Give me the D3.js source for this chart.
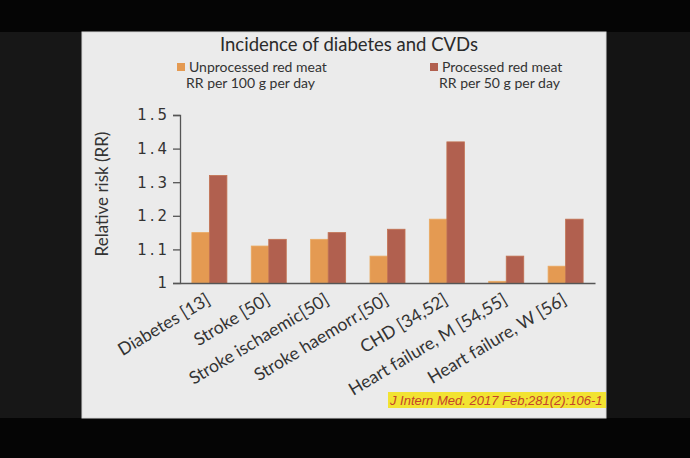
<!DOCTYPE html>
<html><head><meta charset="utf-8">
<script src="https://cdn.jsdelivr.net/npm/d3@7"></script>
<style>html,body{margin:0;padding:0;background:#050505;overflow:hidden}</style>
</head><body>
<svg id="c" width="690" height="458"></svg>
<script>
const categories = ["Diabetes [13]","Stroke [50]","Stroke ischaemic[50]","Stroke haemorr.[50]","CHD [34,52]","Heart failure, M [54,55]","Heart failure, W [56]"];
const unprocessed = [1.15, 1.11, 1.13, 1.08, 1.19, 1.005, 1.05];
const processed = [1.32, 1.13, 1.15, 1.16, 1.42, 1.08, 1.19];
const yTicks = [1, 1.1, 1.2, 1.3, 1.4, 1.5];
const seriesNames = ["Unprocessed red meat", "Processed red meat"];
const seriesSub = ["RR per 100 g per day", "RR per 50 g per day"];
const title = "Incidence of diabetes and CVDs";
const yTitle = "Relative risk (RR)";
const citation = "J Intern Med. 2017 Feb;281(2):106-1";

const colors = ["#e49a52", "#b1604f"];
const svg = d3.select("#c");
const F = "Lato, 'Open Sans', sans-serif";

// side strips
svg.append("rect").attr("x",0).attr("y",0).attr("width",690).attr("height",458).attr("fill","#050505");
svg.append("rect").attr("x",0).attr("y",32).attr("width",82).attr("height",386).attr("fill","#171717");
svg.append("rect").attr("x",606).attr("y",32).attr("width",84).attr("height",386).attr("fill","#141414");

// slide
const sx=82, sy=32, sw=524, sh=386;
svg.append("defs").append("clipPath").attr("id","slide").append("rect").attr("x",sx).attr("y",sy).attr("width",sw).attr("height",sh);
svg.append("rect").attr("x",sx).attr("y",sy).attr("width",sw).attr("height",sh).attr("fill","#ebebeb").attr("stroke","#d8d8d8").attr("stroke-width",1);
const g = svg.append("g").attr("clip-path","url(#slide)");

// title
g.append("text").attr("x",349).attr("y",51).attr("text-anchor","middle")
 .attr("font-family",F).attr("font-size",18.5).attr("fill","#2a2a2a").text(title);

// legend
const legX = [177, 430];
seriesNames.forEach((n,i)=>{
  g.append("rect").attr("x",legX[i]).attr("y",63).attr("width",8).attr("height",8).attr("fill",colors[i]);
  g.append("text").attr("x",legX[i]+12).attr("y",71.5).attr("font-family",F).attr("font-size",14).attr("fill","#333").text(n);
  g.append("text").attr("x",legX[i]+9).attr("y",88).attr("font-family",F).attr("font-size",14).attr("fill","#333").text(seriesSub[i]);
});

// scales
const x = d3.scaleBand().domain(categories).range([180,595]).paddingInner(0.41).paddingOuter(0.2);
const y = d3.scaleLinear().domain([1,1.5]).range([283,115]);

// bars
const bw = x.bandwidth()/2;
[unprocessed, processed].forEach((vals,s)=>{
  g.append("g").selectAll("rect").data(vals).join("rect")
   .attr("x",(d,i)=>x(categories[i]) + s*bw)
   .attr("y",d=>y(d))
   .attr("width",bw)
   .attr("height",d=>y(1)-y(d))
   .attr("fill",colors[s])
   .attr("stroke", s===0 ? "#eaa960" : "#c27252").attr("stroke-width",0.8);
});

// y axis
const yAxis = d3.axisLeft(y).tickValues(yTicks).tickSize(7).tickPadding(2)
  .tickFormat(d=> d===1 ? "1" : d3.format(".1f")(d));
const ya = g.append("g").attr("transform","translate(180,0)").call(yAxis);
ya.select(".domain").attr("stroke","#555").attr("stroke-width",1.3);
ya.selectAll(".tick line").attr("stroke","#555").attr("stroke-width",1.3);
ya.selectAll(".tick text").attr("font-family","'DejaVu Sans', sans-serif").attr("font-size",15)
  .attr("letter-spacing","3px").attr("fill","#333").attr("dx","-1px");

// x axis line
const xa = g.append("g").attr("transform","translate(0,283)").call(d3.axisBottom(x).tickSize(0).tickFormat(""));
xa.select(".domain").attr("stroke","#555").attr("stroke-width",1.5);

// x labels
g.append("g").selectAll("text").data(categories).join("text")
 .attr("transform",d=>`translate(${x(d)+x.bandwidth()/2+2},303) rotate(-31)`)
 .attr("text-anchor","end").attr("font-family",F).attr("font-size",17.5).attr("fill","#333").text(d=>d);

// y title
g.append("text").attr("transform","translate(108,194) rotate(-90)").attr("text-anchor","middle")
 .attr("font-family",F).attr("font-size",17).attr("fill","#333").text(yTitle);

// citation
g.append("rect").attr("x",388).attr("y",392).attr("width",230).attr("height",16).attr("fill","#f2e332");
g.append("text").attr("x",390).attr("y",405).attr("font-family","'Liberation Sans', Arial, sans-serif")
 .attr("font-style","italic").attr("font-size",13).attr("fill","#c4442a").text(citation);
</script>
</body></html>
